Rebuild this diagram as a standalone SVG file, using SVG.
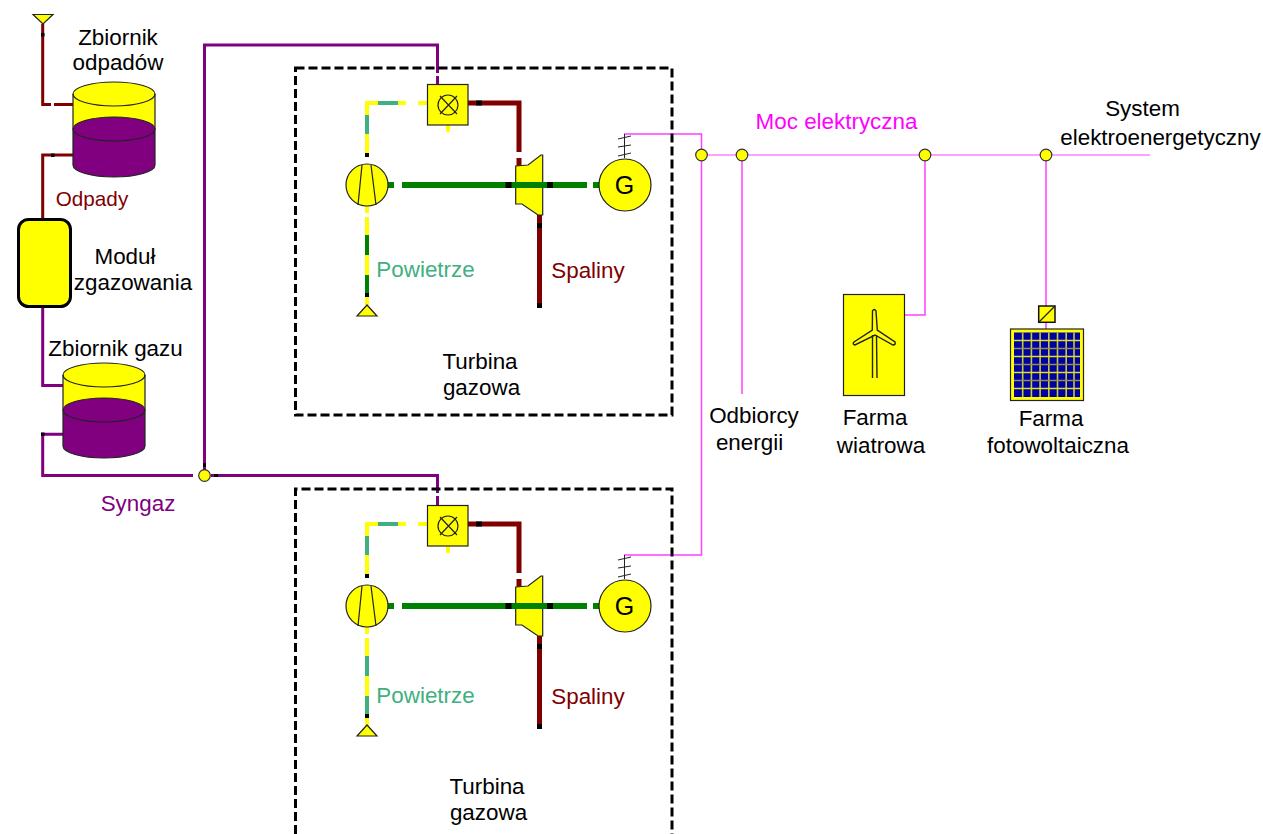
<svg xmlns="http://www.w3.org/2000/svg" width="1263" height="834" viewBox="0 0 1263 834">
<style>
text{font-family:"Liberation Sans",Arial,sans-serif;font-size:22.400px;text-anchor:middle;fill:#000}
.wp{fill:none;stroke:#800000;stroke-width:3}
.sy{fill:none;stroke:#800080;stroke-width:3}
.ex{fill:none;stroke:#800000;stroke-width:5}
.sh{fill:none;stroke:#008000;stroke-width:6}
.ay{fill:none;stroke:#ffff00;stroke-width:4}
.ag{fill:none;stroke:#40b080;stroke-width:4}
.ad{fill:none;stroke:#008000;stroke-width:4}
.pk{fill:none;stroke:#ff40ff;stroke-width:1.500}
.bk{fill:#000}
.y{fill:#ffff00;stroke:#222;stroke-width:1.200}
.t{fill:none;stroke:#222;stroke-width:1.200}
.fr{fill:none;stroke:#000;stroke-width:3;stroke-dasharray:9 4}
.j{fill:#ffff00;stroke:#333;stroke-width:1.200}
</style>
<defs>
<g id="tank">
<rect x="-41" y="0" width="82" height="35" fill="#ffff00"/>
<path d="M-41 35V71A41 12 0 0 0 41 71V35Z" fill="#800080"/>
<ellipse cx="0" cy="0" rx="41" ry="12" fill="#ffff00" stroke="#222" stroke-width="1.200"/>
<ellipse cx="0" cy="35" rx="41" ry="12" fill="#800080" stroke="#222" stroke-width="1.200"/>
<path d="M-41 0V71A41 12 0 0 0 41 71V0" class="t"/>
</g>
<g id="turbine-set">
<path d="M428 103H418M406 103H398" class="ay"/>
<path d="M398 103H378" class="ag"/>
<path d="M378 103H367V115" class="ay"/>
<path d="M367 115V134" class="ag"/>
<path d="M367 134V155" class="ay"/>
<rect x="365" y="153" width="4" height="4" class="bk"/>
<path d="M367 206V213M367 217V235" class="ay"/>
<path d="M448 125V132" class="ay"/>
<path d="M468 103H519V152M519 158V166" class="ex"/>
<rect x="476" y="100.500" width="6" height="5" class="bk"/>
<path d="M388 185H394M402 185H587M593 185H600" class="sh"/>
<path d="M539.500 215V308" class="ex"/>
<rect x="537" y="223" width="5" height="5" class="bk"/>
<rect x="537" y="303" width="5" height="5" class="bk"/>
<rect x="427.500" y="84.500" width="40.500" height="40.500" class="y"/>
<circle cx="448" cy="105" r="10" class="t"/>
<path d="M440 96L457 114M457 96L440 114" class="t"/>
<circle cx="367" cy="185" r="21" class="y"/>
<path d="M362 165L358 205M371 165L376 205" class="t"/>
<path d="M515.700 166L528 165L541 155H542.700V215H538L522 204H515.700Z" class="y"/>
<path d="M511 185H548" class="sh"/>
<rect x="505.500" y="182" width="6" height="6" class="bk"/>
<rect x="547" y="182" width="6" height="6" class="bk"/>
<circle cx="625" cy="185" r="26" class="y"/>
<text x="624.500" y="194" style="font-size:25px">G</text>
<path d="M624.500 134V158M618 139L631 136M618 147L631 145M618 156L631 153" stroke="#222" fill="none" stroke-width="1"/>
</g>
</defs>
<g id="connectors">
<path d="M42.700 24V104.500H51M54 104.500H73" class="wp"/>
<rect x="41" y="33" width="3.500" height="3.500" class="bk"/>
<path d="M73 155H42.700V218" class="wp"/>
<rect x="51" y="153.500" width="3.500" height="3.500" class="bk"/>
<path d="M42.700 307V385.500H63" class="sy"/>
<path d="M63 434.300H42.700V475.500H193" class="sy"/>
<rect x="41" y="432.500" width="3.500" height="3.500" class="bk"/>
<path d="M204.500 470V45H437.500V73M437.500 76V85" class="sy"/>
<path d="M211 475.500H437.500V493M437.500 496V506" class="sy"/>
<rect x="203" y="463" width="3" height="4" class="bk"/>
<rect x="214" y="474" width="4" height="3" class="bk"/>
<path d="M624 134H701.500V155" class="pk"/>
<path d="M624 555H701.500V155" class="pk"/>
<path d="M701.500 155H1150" stroke="#ff40ff" stroke-width="1" fill="none"/>
<path d="M742 155V394" class="pk"/>
<path d="M925 155V315H904" class="pk"/>
<path d="M1046 155V306M1046 322V329" class="pk"/>
<path d="M367 235V255M367 275V293" class="ad"/>
<path d="M367 255V275M367 293V305" class="ay"/>
<rect x="365" y="293" width="4" height="4" class="bk"/>
<path d="M367 656V676" class="ag"/>
<path d="M367 676V696" class="ay"/>
<path d="M367 696V714" class="ag"/>
<path d="M367 714V726" class="ay"/>
<rect x="365" y="714" width="4" height="4" class="bk"/>
</g>
<g id="air-inlet-1"><path d="M357 316L367 305L377 316Z" class="y"/></g>
<g id="air-inlet-2"><path d="M357 736L367 725L377 736Z" class="y"/></g>
<g id="waste-inlet"><path d="M33 14.500H53L43 24Z" class="y"/></g>
<g id="tank-waste"><use href="#tank" x="114" y="94"/><text x="118" y="45">Zbiornik</text><text x="118" y="70">odpadów</text></g>
<g id="gasifier"><rect x="18.500" y="219.500" width="52" height="87" rx="10" fill="#ffff00" stroke="#000" stroke-width="3"/><text x="125" y="264">Moduł</text><text x="133" y="290">zgazowania</text></g>
<g id="tank-gas"><use href="#tank" x="104" y="375"/><text x="115.500" y="356">Zbiornik gazu</text></g>
<g id="junction-syngas"><circle cx="204.500" cy="475.500" r="5.800" class="j"/></g>
<g id="junctions"><circle cx="701.500" cy="155" r="5.800" class="j"/><circle cx="742" cy="155" r="5.800" class="j"/><circle cx="925" cy="155" r="5.800" class="j"/><circle cx="1046" cy="155" r="5.800" class="j"/></g>
<g id="turbine-1"><rect x="295.500" y="68" width="376.500" height="347" class="fr"/><use href="#turbine-set"/><text x="480" y="369">Turbina</text><text x="481.500" y="395">gazowa</text></g>
<g id="turbine-2"><path d="M295.500 834V489H672V834" class="fr"/><use href="#turbine-set" y="421"/><text x="487" y="794">Turbina</text><text x="488.500" y="820">gazowa</text></g>
<g id="wind-farm">
<rect x="843.500" y="294.500" width="61" height="101" class="y"/>
<path d="M872.300 330L872.500 311Q874 308 876 311L877.300 330L895 342Q896 345 893 345L875 335L855 345Q852 344 854 342Z M872.500 335V378M876.500 335L877 378" fill="none" stroke="#222" stroke-width="1.400"/>
<text x="875" y="425">Farma</text><text x="881" y="453">wiatrowa</text>
</g>
<g id="pv-farm">
<rect x="1038.700" y="306" width="16.300" height="16.300" fill="#ffff00" stroke="#111" stroke-width="1.500"/>
<path d="M1039 322L1055 306" class="t"/>
<rect x="1010.500" y="329" width="73" height="71.500" class="y"/>
<rect x="1014" y="332.500" width="66" height="64.500" fill="#0000a0"/>
<path d="M1022.700 332.500V397M1031.400 332.500V397M1040.100 332.500V397M1048.800 332.500V397M1057.500 332.500V397M1066.200 332.500V397M1074 332.500V397" stroke="#c8c840" stroke-width="1.600" fill="none"/>
<path d="M1014 340.500H1080M1014 356.500H1080M1014 372.500H1080M1014 388.500H1080" stroke="#e0e020" stroke-width="1.300" fill="none"/>
<path d="M1014 348.500H1080M1014 364.500H1080M1014 380.500H1080" stroke="#909050" stroke-width="1.300" fill="none"/>
<text x="1051" y="426">Farma</text><text x="1058" y="453">fotowoltaiczna</text>
</g>
<g id="labels">
<text x="92" y="206" style="fill:#800000;font-size:20.700px">Odpady</text>
<text x="138" y="511" style="fill:#800080">Syngaz</text>
<text x="425.500" y="277" style="fill:#40b080">Powietrze</text>
<text x="588" y="278" style="fill:#800000">Spaliny</text>
<text x="425.500" y="703" style="fill:#40b080">Powietrze</text>
<text x="588" y="704" style="fill:#800000">Spaliny</text>
<text x="836.500" y="129" style="fill:#ff00ff">Moc elektryczna</text>
<text x="1142.500" y="116">System</text>
<text x="1160.500" y="145">elektroenergetyczny</text>
<text x="754" y="423">Odbiorcy</text><text x="749.500" y="450">energii</text>
</g>
</svg>
